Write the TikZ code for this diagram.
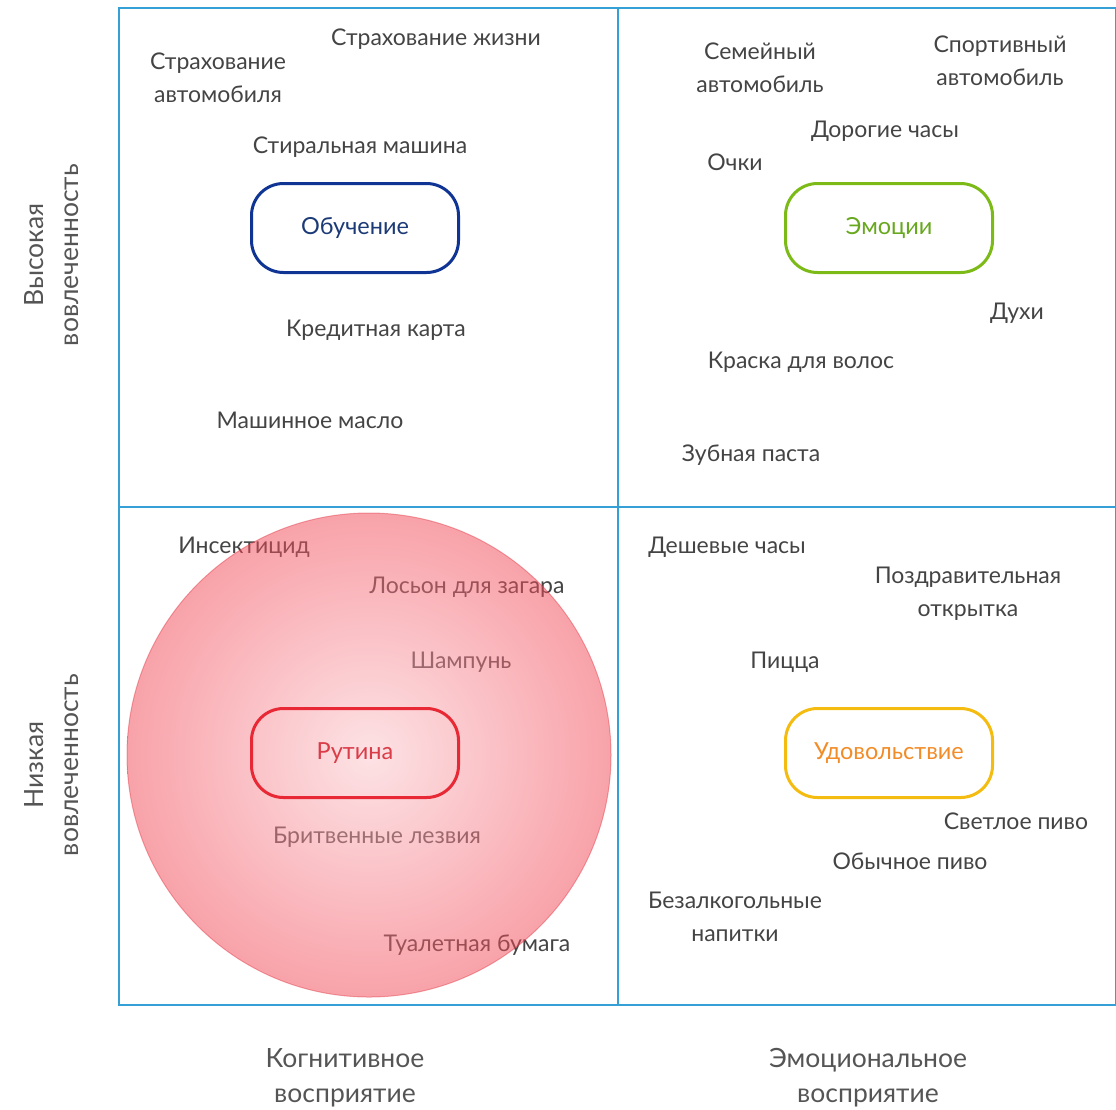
\documentclass[tikz,border=0pt]{standalone}
\usepackage{fontspec}
\setmainfont{Lato}
\usepackage{tikz}
\usetikzlibrary{positioning}
\definecolor{gridblue}{RGB}{52,160,214}
\definecolor{itemgrey}{RGB}{68,68,68}
\definecolor{axisgrey}{RGB}{85,85,85}
\definecolor{learnblue}{RGB}{16,52,148}
\definecolor{learntext}{RGB}{28,58,118}
\definecolor{emogreen}{RGB}{124,186,24}
\definecolor{emotext}{RGB}{104,168,30}
\definecolor{routred}{RGB}{232,40,52}
\definecolor{routtext}{RGB}{218,60,72}
\definecolor{joyyellow}{RGB}{244,188,16}
\definecolor{joytext}{RGB}{242,140,40}
\definecolor{circin}{RGB}{251,198,203}
\definecolor{circout}{RGB}{242,70,84}
\definecolor{circrim}{RGB}{225,60,72}

\tikzset{
    item/.style={font=\fontsize{23}{33}\selectfont, text=itemgrey, align=center, inner sep=0pt},
    axis/.style={font=\fontsize{26.5}{35}\selectfont, text=axisgrey, align=center, inner sep=0pt},
    quadbox/.style={draw, line width=3pt, rounded corners=32pt, minimum width=207pt,
        minimum height=89pt, font=\fontsize{23.5}{26}\selectfont}
}

\begin{document}
\begin{tikzpicture}[x=1pt, y=-1pt]
    \useasboundingbox (0,0) rectangle (1116,1109);

    % Grid
    \draw[gridblue, line width=1.5pt] (119,8) rectangle (1116,1005);
    \draw[gridblue, line width=1.5pt] (618,8) -- (618,1005);
    \draw[gridblue, line width=1.5pt] (119,507) -- (1116,507);

    % Axis labels
    \node[axis, rotate=90] (high) at (52,255) {Высокая\\вовлеченность};
    \node[axis, rotate=90] (low) at (52,765) {Низкая\\вовлеченность};
    \node[axis] (cogn) at (345,1078) {Когнитивное\\восприятие};
    \node[axis] (emot) at (868,1078) {Эмоциональное\\восприятие};

    % Top left quadrant
    \node[item] (life) at (436,39) {Страхование жизни};
    \node[item] (carins) at (218,78) {Страхование\\автомобиля};
    \node[item] (washer) at (360,147) {Стиральная машина};
    \node[item] (credit) at (376,330) {Кредитная карта};
    \node[item] (oil) at (310,420) {Машинное масло};

    % Top right quadrant
    \node[item] (family) at (760,68) {Семейный\\автомобиль};
    \node[item] (sport) at (1000,61) {Спортивный\\автомобиль};
    \node[item] (watch) at (885,131) {Дорогие часы};
    \node[item] (glasses) at (735,162) {Очки};
    \node[item] (perfume) at (1017,313) {Духи};
    \node[item] (dye) at (801,362) {Краска для волос};
    \node[item] (paste) at (751,455) {Зубная паста};

    % Bottom left quadrant
    \node[item] (insect) at (244,547) {Инсектицид};
    \node[item] (lotion) at (467,587) {Лосьон для загара};
    \node[item] (shampoo) at (461,662) {Шампунь};
    \node[item] (blades) at (377,837) {Бритвенные лезвия};
    \node[item] (paper) at (477,945) {Туалетная бумага};

    % Bottom right quadrant
    \node[item] (cheap) at (727,547) {Дешевые часы};
    \node[item] (card) at (968,594) {Поздравительная\\открытка};
    \node[item] (pizza) at (785,662) {Пицца};
    \node[item] (lager) at (1016,821) {Светлое пиво};
    \node[item] (beer) at (910,861) {Обычное пиво};
    \node[item] (soft) at (735,917) {Безалкогольные\\напитки};

    % Routine circle
    \shade[inner color=circin, outer color=circout, fill opacity=0.5]
        (369,755) circle[radius=242];
    \draw[circrim, opacity=0.45, line width=1pt] (369,755) circle[radius=242];

    % Quadrant boxes
    \node[quadbox, draw=learnblue, text=learntext] (learn) at (355,228) {Обучение};
    \node[quadbox, draw=emogreen, text=emotext] (emo) at (889,228) {Эмоции};
    \node[quadbox, draw=routred, text=routtext] (rout) at (355,753) {Рутина};
    \node[quadbox, draw=joyyellow, text=joytext] (joy) at (889,753) {Удовольствие};
\end{tikzpicture}
\end{document}
